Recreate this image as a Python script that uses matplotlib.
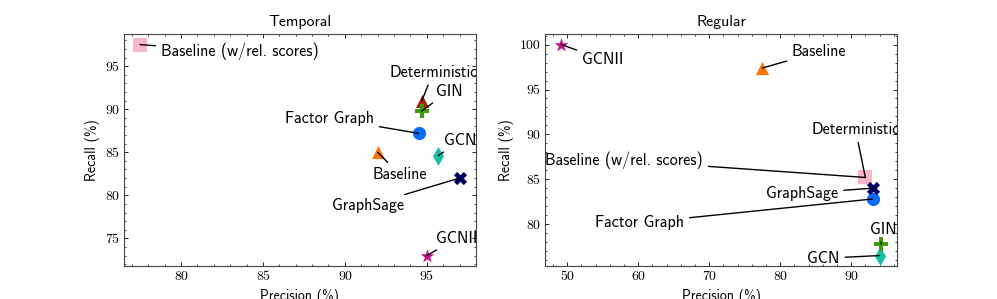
import matplotlib
matplotlib.use("Agg")
import matplotlib.pyplot as plt
from matplotlib.ticker import AutoMinorLocator, MultipleLocator

# method names, shared by both panels
methods = ["Deterministic", "Baseline", "Baseline (w/rel. scores)", "Factor Graph",
           "GCN", "GCNII", "GIN", "GraphSage"]

# Temporal split (precision, recall)
temporal_precision = [94.7, 92.0, 77.5, 94.5, 95.7, 95.0, 94.7, 97.0]
temporal_recall = [91.0, 85.0, 97.5, 87.2, 84.6, 73.0, 89.8, 82.0]
# label positions (data coords)
temporal_label_x = [95.4, 93.35, 83.6, 89.05, 97.05, 96.85, 96.35, 91.4]
temporal_label_y = [94.3, 82.4, 96.7, 88.95, 86.4, 75.0, 92.1, 78.8]

# Regular split
regular_precision = [92.0, 77.5, 92.0, 93.0, 94.0, 49.2, 94.2, 93.0]
regular_recall = [85.2, 97.4, 85.2, 82.8, 76.5, 100.0, 77.8, 84.0]
regular_label_x = [90.6, 85.5, 58.0, 60.2, 86.1, 55.0, 94.5, 83.1]
regular_label_y = [90.55, 99.2, 87.1, 80.15, 76.2, 98.35, 79.45, 83.45]

markers = ["^", "^", "s", "o", "d", "*", "P", "X"]
colors = ["#a3260c", "#ff760a", "#f8b6cc", "#0c6cff", "#16c0a6", "#c20f8a", "#3e9a0a", "#00005e"]
sizes = [90, 90, 90, 90, 90, 110, 100, 90]

plt.rcParams["font.family"] = "cmss10"
plt.rcParams["axes.linewidth"] = 0.8
plt.rcParams["axes.edgecolor"] = "#444444"

fig, axes = plt.subplots(1, 2, figsize=(9.97, 2.99), dpi=100)
fig.subplots_adjust(left=0.1244, right=0.8997, top=0.886, bottom=0.110, wspace=0.199)

panels = [
    ("Temporal", temporal_precision, temporal_recall, temporal_label_x, temporal_label_y),
    ("Regular", regular_precision, regular_recall, regular_label_x, regular_label_y),
]

for ax, (title, px, ry, lx, ly) in zip(axes, panels):
    for i, name in enumerate(methods):
        ax.scatter(px[i], ry[i], marker=markers[i], color=colors[i], s=sizes[i],
                   linewidths=0, zorder=3)
        ax.annotate(name, xy=(px[i], ry[i]), xytext=(lx[i], ly[i]),
                    ha="center", va="center", fontsize=11.6, annotation_clip=False,
                    arrowprops=dict(arrowstyle="-", color="black", lw=1.0,
                                    shrinkA=2, shrinkB=0),
                    clip_on=True, zorder=4)
    ax.set_title(title, fontsize=11.4)
    ax.set_xlabel("Precision (%)", fontsize=10)
    ax.set_ylabel("Recall (%)", fontsize=10)
    ax.xaxis.set_major_locator(MultipleLocator(5 if title == "Temporal" else 10))
    ax.yaxis.set_major_locator(MultipleLocator(5))
    ax.xaxis.set_minor_locator(AutoMinorLocator())
    ax.yaxis.set_minor_locator(AutoMinorLocator())
    ax.tick_params(which="both", direction="in", top=True, right=True,
                   labelsize=10, labelfontfamily="cmr10")
    ax.tick_params(which="major", length=3, width=0.6)
    ax.tick_params(which="minor", length=1.5, width=0.5)

fig.savefig("out.png", dpi=100)
